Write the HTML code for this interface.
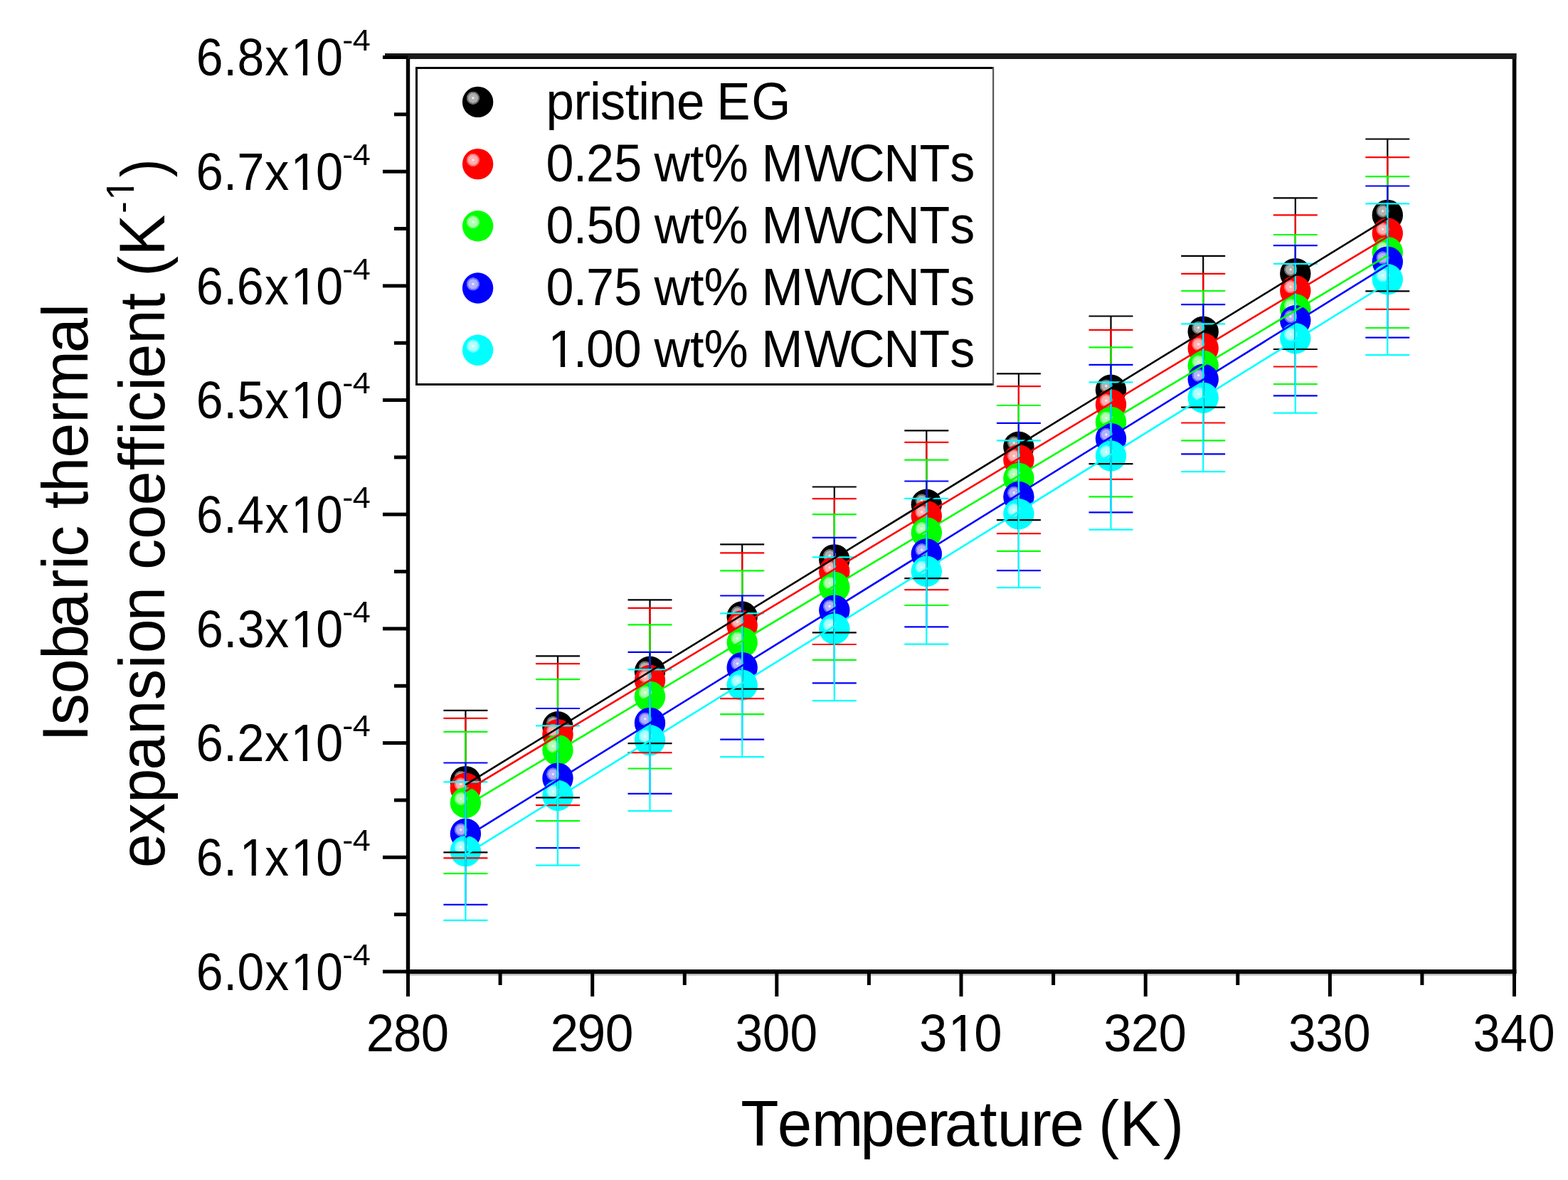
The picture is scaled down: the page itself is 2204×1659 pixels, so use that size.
<!DOCTYPE html><html><head><meta charset="utf-8"><style>html,body{margin:0;padding:0;background:#fff;}svg{display:block;}</style></head><body>
<svg width="2204" height="1659" viewBox="0 0 2204 1659" font-family='"Liberation Sans", Arial, sans-serif'>
<defs>
<radialGradient id="gk" cx="0.346" cy="0.37" fx="0.346" fy="0.37" r="0.215"><stop offset="0" stop-color="#ffffff"/><stop offset="0.15" stop-color="#d9d9d9"/><stop offset="0.25" stop-color="#b2b2b2"/><stop offset="0.72" stop-color="#adadad"/><stop offset="0.76" stop-color="#737373"/><stop offset="0.95" stop-color="#666666"/><stop offset="1" stop-color="#000000"/></radialGradient>
<radialGradient id="gr" cx="0.346" cy="0.37" fx="0.346" fy="0.37" r="0.215"><stop offset="0" stop-color="#ffffff"/><stop offset="0.15" stop-color="#ffd9d9"/><stop offset="0.25" stop-color="#ffb2b2"/><stop offset="0.72" stop-color="#ffadad"/><stop offset="0.76" stop-color="#ff7373"/><stop offset="0.95" stop-color="#ff6666"/><stop offset="1" stop-color="#ff0000"/></radialGradient>
<radialGradient id="gg" cx="0.346" cy="0.37" fx="0.346" fy="0.37" r="0.215"><stop offset="0" stop-color="#ffffff"/><stop offset="0.15" stop-color="#d9ffd9"/><stop offset="0.25" stop-color="#b2ffb2"/><stop offset="0.72" stop-color="#adffad"/><stop offset="0.76" stop-color="#73ff73"/><stop offset="0.95" stop-color="#66ff66"/><stop offset="1" stop-color="#00ff00"/></radialGradient>
<radialGradient id="gb" cx="0.346" cy="0.37" fx="0.346" fy="0.37" r="0.215"><stop offset="0" stop-color="#ffffff"/><stop offset="0.15" stop-color="#d9d9ff"/><stop offset="0.25" stop-color="#b2b2ff"/><stop offset="0.72" stop-color="#adadff"/><stop offset="0.76" stop-color="#7373ff"/><stop offset="0.95" stop-color="#6666ff"/><stop offset="1" stop-color="#0000ff"/></radialGradient>
<radialGradient id="gc" cx="0.346" cy="0.37" fx="0.346" fy="0.37" r="0.215"><stop offset="0" stop-color="#ffffff"/><stop offset="0.15" stop-color="#d9ffff"/><stop offset="0.25" stop-color="#b2ffff"/><stop offset="0.72" stop-color="#adffff"/><stop offset="0.76" stop-color="#73ffff"/><stop offset="0.95" stop-color="#66ffff"/><stop offset="1" stop-color="#00ffff"/></radialGradient>
</defs>
<rect width="2204" height="1659" fill="#fff"/>
<g fill="#000">
<rect x="570.8" y="75" width="5.4" height="1294"/>
<rect x="2125.8" y="75" width="5.6" height="1294"/>
<rect x="541" y="75" width="1590.4" height="8" fill="#1a1a1a"/>
<rect x="570.8" y="1363" width="1560.6" height="6"/>
<rect x="570.8" y="1369" width="1560.6" height="2.5" fill="#bbb"/>
<rect x="538" y="1363.5" width="35" height="5"/>
<rect x="554" y="1283.2" width="19" height="5"/>
<rect x="538" y="1202.8" width="35" height="5"/>
<rect x="554" y="1122.5" width="19" height="5"/>
<rect x="538" y="1042.1" width="35" height="5"/>
<rect x="554" y="961.8" width="19" height="5"/>
<rect x="538" y="881.4" width="35" height="5"/>
<rect x="554" y="801.1" width="19" height="5"/>
<rect x="538" y="720.7" width="35" height="5"/>
<rect x="554" y="640.4" width="19" height="5"/>
<rect x="538" y="560.0" width="35" height="5"/>
<rect x="554" y="479.7" width="19" height="5"/>
<rect x="538" y="399.4" width="35" height="5"/>
<rect x="554" y="319.0" width="19" height="5"/>
<rect x="538" y="238.7" width="35" height="5"/>
<rect x="554" y="158.3" width="19" height="5"/>
<rect x="538" y="78.0" width="35" height="5"/>
<rect x="571.0" y="1365" width="5" height="36"/>
<rect x="700.6" y="1365" width="5" height="20"/>
<rect x="830.2" y="1365" width="5" height="36"/>
<rect x="959.8" y="1365" width="5" height="20"/>
<rect x="1089.3" y="1365" width="5" height="36"/>
<rect x="1218.9" y="1365" width="5" height="20"/>
<rect x="1348.5" y="1365" width="5" height="36"/>
<rect x="1478.1" y="1365" width="5" height="20"/>
<rect x="1607.7" y="1365" width="5" height="36"/>
<rect x="1737.3" y="1365" width="5" height="20"/>
<rect x="1866.9" y="1365" width="5" height="36"/>
<rect x="1996.4" y="1365" width="5" height="20"/>
<rect x="2126.0" y="1365" width="5" height="36"/>
</g>
<g fill="#000">
<text transform="translate(0,1391.70) scale(0.9255,1)" x="298.0 339.5 360.3 402.2 441.8 480.0" font-size="73.3">6.0x10</text><rect x="412.65" y="1384.90" width="13.21" height="8.00" fill="#fff"/><rect x="431.97" y="1384.90" width="12.53" height="8.00" fill="#fff"/>
<text transform="translate(0,1356.85) scale(1.0581,1)" x="454.8 468.6" font-size="42.6">-4</text>
<text transform="translate(0,1231.01) scale(0.9227,1)" x="298.9 340.5 365.0 403.5 443.2 481.5" font-size="73.3">6.1x10</text><rect x="340.50" y="1224.21" width="13.17" height="8.00" fill="#fff"/><rect x="359.76" y="1224.21" width="12.50" height="8.00" fill="#fff"/><rect x="412.70" y="1224.21" width="13.17" height="8.00" fill="#fff"/><rect x="431.96" y="1224.21" width="12.50" height="8.00" fill="#fff"/>
<text transform="translate(0,1196.16) scale(1.0581,1)" x="454.8 468.6" font-size="42.6">-4</text>
<text transform="translate(0,1070.32) scale(0.9385,1)" x="293.6 334.6 355.1 396.4 435.4 473.1" font-size="73.3">6.2x10</text><rect x="412.44" y="1063.52" width="13.38" height="8.00" fill="#fff"/><rect x="432.01" y="1063.52" width="12.69" height="8.00" fill="#fff"/>
<text transform="translate(0,1035.47) scale(1.0581,1)" x="454.8 468.6" font-size="42.6">-4</text>
<text transform="translate(0,909.63) scale(0.9319,1)" x="295.8 337.1 358.2 399.3 438.6 476.6" font-size="73.3">6.3x10</text><rect x="412.55" y="902.83" width="13.30" height="8.00" fill="#fff"/><rect x="431.99" y="902.83" width="12.61" height="8.00" fill="#fff"/>
<text transform="translate(0,874.78) scale(1.0581,1)" x="454.8 468.6" font-size="42.6">-4</text>
<text transform="translate(0,748.94) scale(0.9129,1)" x="302.4 344.3 365.6 408.0 448.2 486.9" font-size="73.3">6.4x10</text><rect x="412.86" y="742.14" width="13.05" height="8.00" fill="#fff"/><rect x="431.92" y="742.14" width="12.38" height="8.00" fill="#fff"/>
<text transform="translate(0,714.09) scale(1.0581,1)" x="454.8 468.6" font-size="42.6">-4</text>
<text transform="translate(0,588.25) scale(0.9255,1)" x="298.0 339.5 360.3 402.2 441.8 480.0" font-size="73.3">6.5x10</text><rect x="412.65" y="581.45" width="13.21" height="8.00" fill="#fff"/><rect x="431.97" y="581.45" width="12.53" height="8.00" fill="#fff"/>
<text transform="translate(0,553.40) scale(1.0581,1)" x="454.8 468.6" font-size="42.6">-4</text>
<text transform="translate(0,427.56) scale(0.9319,1)" x="295.8 337.1 357.2 399.3 438.6 476.6" font-size="73.3">6.6x10</text><rect x="412.55" y="420.76" width="13.30" height="8.00" fill="#fff"/><rect x="431.99" y="420.76" width="12.61" height="8.00" fill="#fff"/>
<text transform="translate(0,392.71) scale(1.0581,1)" x="454.8 468.6" font-size="42.6">-4</text>
<text transform="translate(0,266.87) scale(0.9385,1)" x="293.6 334.6 355.1 396.4 435.4 473.1" font-size="73.3">6.7x10</text><rect x="412.44" y="260.07" width="13.38" height="8.00" fill="#fff"/><rect x="432.01" y="260.07" width="12.69" height="8.00" fill="#fff"/>
<text transform="translate(0,232.02) scale(1.0581,1)" x="454.8 468.6" font-size="42.6">-4</text>
<text transform="translate(0,106.18) scale(0.9255,1)" x="298.0 339.5 360.3 402.2 441.8 480.0" font-size="73.3">6.8x10</text><rect x="412.65" y="99.38" width="13.21" height="8.00" fill="#fff"/><rect x="431.97" y="99.38" width="12.53" height="8.00" fill="#fff"/>
<text transform="translate(0,71.33) scale(1.0581,1)" x="454.8 468.6" font-size="42.6">-4</text>
<text transform="translate(0,1477.50) scale(0.9563,1)" x="538.2 578.4 618.8" font-size="74">280</text>
<text transform="translate(0,1477.50) scale(0.9657,1)" x="801.1 840.4 881.0" font-size="74">290</text>
<text transform="translate(0,1477.50) scale(0.9381,1)" x="1101.6 1142.5 1183.8" font-size="74">300</text>
<text transform="translate(0,1477.50) scale(0.9557,1)" x="1352.0 1394.6 1432.8" font-size="74">310</text><rect x="1336.83" y="1470.65" width="13.73" height="8.05" fill="#fff"/><rect x="1356.93" y="1470.65" width="13.02" height="8.05" fill="#fff"/>
<text transform="translate(0,1477.50) scale(0.9563,1)" x="1622.2 1662.4 1702.9" font-size="74">320</text>
<text transform="translate(0,1477.50) scale(0.9381,1)" x="1930.4 1971.4 2012.6" font-size="74">330</text>
<text transform="translate(0,1477.50) scale(0.9206,1)" x="2249.1 2290.8 2332.9" font-size="74">340</text>
<text transform="translate(0,1611.10) scale(0.9701,1)" x="1073.4 1126.4 1176.0 1246.6 1295.5 1343.9 1368.8 1419.7 1444.9 1493.3 1520.9 1540.9 1591.6 1622.1 1685.3" font-size="90">Temperature (K)</text>
<text transform="translate(122.70,0) rotate(-90) scale(0.9827,1)" x="-1061.4 -1037.2 -992.7 -943.3 -898.2 -844.5 -815.1 -796.7 -776.7 -727.8 -704.2 -655.2 -605.4 -576.5 -505.1 -454.4" font-size="90" style="font-variant-ligatures:none">Isobaric thermal</text>
<text transform="translate(231.40,0) rotate(-90) scale(0.9630,1)" x="-1267.2 -1217.9 -1172.1 -1124.3 -1072.4 -1022.2 -976.1 -953.8 -906.7 -886.7 -831.9 -787.1 -737.8 -686.7 -663.3 -635.3 -616.1 -570.6 -552.3 -502.2 -452.7 -432.7 -403.8 -373.2" font-size="90" style="font-variant-ligatures:none">expansion coefficient (K</text>
<text transform="translate(189.20,299.80) rotate(-90) scale(0.946,1)" font-size="52">-</text>
<text transform="translate(188.40,281.70) rotate(-90) scale(1.000,1)" font-size="54.6">1</text>
<rect x="182.4" y="268.05" width="7" height="10.6" fill="#fff"/><rect x="182.4" y="253.2" width="7" height="9.9" fill="#fff"/>
<text transform="translate(230.80,249.30) rotate(-90) scale(0.896,1)" font-size="87">)</text>
<path d="M1395.5 95.5H585.5V540.5H1395.5" fill="none" stroke="#000" stroke-width="3"/>
<rect x="1395" y="94" width="2.2" height="448" fill="#555"/>
<circle cx="671.6" cy="143.4" r="21.7" fill="url(#gk)"/>
<text transform="translate(0,167.60) scale(0.9507,1)" x="807.3 848.3 871.9 887.4 924.2 943.8 959.3 1000.4 1020.4 1059.4 1111.0" font-size="74.6">pristine EG</text>
<circle cx="671.6" cy="230.6" r="21.7" fill="url(#gr)"/>
<text transform="translate(0,254.60) scale(0.9406,1)" x="815.9 856.6 876.1 917.7 937.7 977.7 1031.2 1052.0 1072.0 1138.0 1202.1 1268.3 1320.7 1374.0 1419.7" font-size="74.6">0.25 wt% MWCNTs</text>
<circle cx="671.6" cy="317.8" r="21.7" fill="url(#gg)"/>
<text transform="translate(0,341.60) scale(0.9370,1)" x="819.0 859.9 880.0 920.8 940.8 981.5 1035.1 1056.1 1076.1 1142.4 1206.7 1273.2 1325.8 1379.3 1425.1" font-size="74.6">0.50 wt% MWCNTs</text>
<circle cx="671.6" cy="405.0" r="21.7" fill="url(#gb)"/>
<text transform="translate(0,428.60) scale(0.9406,1)" x="815.9 856.6 876.1 917.7 937.7 977.7 1031.2 1052.0 1072.0 1138.0 1202.1 1268.3 1320.7 1374.0 1419.7" font-size="74.6">0.75 wt% MWCNTs</text>
<circle cx="671.6" cy="492.2" r="21.7" fill="url(#gc)"/>
<text transform="translate(0,515.60) scale(0.9392,1)" x="820.2 857.9 877.3 918.5 938.5 979.1 1032.7 1053.6 1073.6 1139.6 1203.8 1270.1 1322.6 1376.0 1421.7" font-size="74.6">1.00 wt% MWCNTs</text><rect x="774.24" y="508.70" width="13.61" height="8.09" fill="#fff"/><rect x="794.16" y="508.70" width="12.91" height="8.09" fill="#fff"/>
</g>
<circle cx="654.4" cy="1098.6" r="21.7" fill="url(#gk)"/>
<circle cx="784.0" cy="1021.8" r="21.7" fill="url(#gk)"/>
<circle cx="913.5" cy="944.2" r="21.7" fill="url(#gk)"/>
<circle cx="1043.2" cy="867.0" r="21.7" fill="url(#gk)"/>
<circle cx="1172.8" cy="786.9" r="21.7" fill="url(#gk)"/>
<circle cx="1302.3" cy="709.2" r="21.7" fill="url(#gk)"/>
<circle cx="1431.9" cy="628.2" r="21.7" fill="url(#gk)"/>
<circle cx="1561.5" cy="548.3" r="21.7" fill="url(#gk)"/>
<circle cx="1691.2" cy="466.3" r="21.7" fill="url(#gk)"/>
<circle cx="1820.8" cy="384.6" r="21.7" fill="url(#gk)"/>
<circle cx="1950.3" cy="302.4" r="21.7" fill="url(#gk)"/>
<circle cx="654.4" cy="1108.1" r="21.7" fill="url(#gr)"/>
<circle cx="784.0" cy="1032.7" r="21.7" fill="url(#gr)"/>
<circle cx="913.5" cy="956.5" r="21.7" fill="url(#gr)"/>
<circle cx="1043.2" cy="879.8" r="21.7" fill="url(#gr)"/>
<circle cx="1172.8" cy="803.6" r="21.7" fill="url(#gr)"/>
<circle cx="1302.3" cy="725.5" r="21.7" fill="url(#gr)"/>
<circle cx="1431.9" cy="646.7" r="21.7" fill="url(#gr)"/>
<circle cx="1561.5" cy="568.9" r="21.7" fill="url(#gr)"/>
<circle cx="1691.2" cy="489.6" r="21.7" fill="url(#gr)"/>
<circle cx="1820.8" cy="408.9" r="21.7" fill="url(#gr)"/>
<circle cx="1950.3" cy="328.0" r="21.7" fill="url(#gr)"/>
<circle cx="654.4" cy="1128.5" r="21.7" fill="url(#gg)"/>
<circle cx="784.0" cy="1054.6" r="21.7" fill="url(#gg)"/>
<circle cx="913.5" cy="979.4" r="21.7" fill="url(#gg)"/>
<circle cx="1043.2" cy="903.2" r="21.7" fill="url(#gg)"/>
<circle cx="1172.8" cy="825.5" r="21.7" fill="url(#gg)"/>
<circle cx="1302.3" cy="748.9" r="21.7" fill="url(#gg)"/>
<circle cx="1431.9" cy="672.4" r="21.7" fill="url(#gg)"/>
<circle cx="1561.5" cy="593.4" r="21.7" fill="url(#gg)"/>
<circle cx="1691.2" cy="514.2" r="21.7" fill="url(#gg)"/>
<circle cx="1820.8" cy="435.0" r="21.7" fill="url(#gg)"/>
<circle cx="1950.3" cy="354.6" r="21.7" fill="url(#gg)"/>
<circle cx="654.4" cy="1172.2" r="21.7" fill="url(#gb)"/>
<circle cx="784.0" cy="1094.1" r="21.7" fill="url(#gb)"/>
<circle cx="913.5" cy="1016.4" r="21.7" fill="url(#gb)"/>
<circle cx="1043.2" cy="938.6" r="21.7" fill="url(#gb)"/>
<circle cx="1172.8" cy="858.1" r="21.7" fill="url(#gb)"/>
<circle cx="1302.3" cy="778.9" r="21.7" fill="url(#gb)"/>
<circle cx="1431.9" cy="698.5" r="21.7" fill="url(#gb)"/>
<circle cx="1561.5" cy="616.6" r="21.7" fill="url(#gb)"/>
<circle cx="1691.2" cy="533.2" r="21.7" fill="url(#gb)"/>
<circle cx="1820.8" cy="450.7" r="21.7" fill="url(#gb)"/>
<circle cx="1950.3" cy="368.1" r="21.7" fill="url(#gb)"/>
<circle cx="654.4" cy="1196.6" r="21.7" fill="url(#gc)"/>
<circle cx="784.0" cy="1118.5" r="21.7" fill="url(#gc)"/>
<circle cx="913.5" cy="1040.7" r="21.7" fill="url(#gc)"/>
<circle cx="1043.2" cy="963.2" r="21.7" fill="url(#gc)"/>
<circle cx="1172.8" cy="884.2" r="21.7" fill="url(#gc)"/>
<circle cx="1302.3" cy="803.3" r="21.7" fill="url(#gc)"/>
<circle cx="1431.9" cy="722.7" r="21.7" fill="url(#gc)"/>
<circle cx="1561.5" cy="641.0" r="21.7" fill="url(#gc)"/>
<circle cx="1691.2" cy="559.2" r="21.7" fill="url(#gc)"/>
<circle cx="1820.8" cy="475.8" r="21.7" fill="url(#gc)"/>
<circle cx="1950.3" cy="392.8" r="21.7" fill="url(#gc)"/>
<path d="M654.4 998.9V1198.3M623.4 998.9H685.4M623.4 1198.3H685.4M784.0 922.3V1121.3M753.0 922.3H815.0M753.0 1121.3H815.0M913.5 843.3V1045.1M882.5 843.3H944.5M882.5 1045.1H944.5M1043.2 765.3V968.7M1012.2 765.3H1074.2M1012.2 968.7H1074.2M1172.8 684.5V889.3M1141.8 684.5H1203.8M1141.8 889.3H1203.8M1302.3 605.3V813.1M1271.3 605.3H1333.3M1271.3 813.1H1333.3M1431.9 525.3V731.1M1400.9 525.3H1462.9M1400.9 731.1H1462.9M1561.5 444.5V652.1M1530.5 444.5H1592.5M1530.5 652.1H1592.5M1691.2 359.9V572.7M1660.2 359.9H1722.2M1660.2 572.7H1722.2M1820.8 278.3V491.0M1789.8 278.3H1851.8M1789.8 491.0H1851.8M1950.3 195.5V409.3M1919.3 195.5H1981.3M1919.3 409.3H1981.3" stroke="#000000" stroke-width="2.2" fill="none"/>
<path d="M654.4 1009.9V1206.3M623.4 1009.9H685.4M623.4 1206.3H685.4M784.0 933.2V1132.2M753.0 933.2H815.0M753.0 1132.2H815.0M913.5 854.9V1058.2M882.5 854.9H944.5M882.5 1058.2H944.5M1043.2 777.4V982.2M1012.2 777.4H1074.2M1012.2 982.2H1074.2M1172.8 701.2V906.0M1141.8 701.2H1203.8M1141.8 906.0H1203.8M1302.3 621.8V829.2M1271.3 621.8H1333.3M1271.3 829.2H1333.3M1431.9 543.2V750.2M1400.9 543.2H1462.9M1400.9 750.2H1462.9M1561.5 463.8V673.9M1530.5 463.8H1592.5M1530.5 673.9H1592.5M1691.2 384.8V594.5M1660.2 384.8H1722.2M1660.2 594.5H1722.2M1820.8 302.4V515.5M1789.8 302.4H1851.8M1789.8 515.5H1851.8M1950.3 221.2V434.9M1919.3 221.2H1981.3M1919.3 434.9H1981.3" stroke="#ff0000" stroke-width="2.2" fill="none"/>
<path d="M654.4 1028.8V1228.2M623.4 1028.8H685.4M623.4 1228.2H685.4M784.0 955.1V1154.1M753.0 955.1H815.0M753.0 1154.1H815.0M913.5 878.3V1080.5M882.5 878.3H944.5M882.5 1080.5H944.5M1043.2 802.3V1004.1M1012.2 802.3H1074.2M1012.2 1004.1H1074.2M1172.8 723.1V927.9M1141.8 723.1H1203.8M1141.8 927.9H1203.8M1302.3 646.7V851.0M1271.3 646.7H1333.3M1271.3 851.0H1333.3M1431.9 570.0V774.8M1400.9 570.0H1462.9M1400.9 774.8H1462.9M1561.5 488.3V698.4M1530.5 488.3H1592.5M1530.5 698.4H1592.5M1691.2 409.0V619.4M1660.2 409.0H1722.2M1660.2 619.4H1722.2M1820.8 330.0V540.0M1789.8 330.0H1851.8M1789.8 540.0H1851.8M1950.3 248.2V461.0M1919.3 248.2H1981.3M1919.3 461.0H1981.3" stroke="#00ff00" stroke-width="2.2" fill="none"/>
<path d="M654.4 1072.5V1271.9M623.4 1072.5H685.4M623.4 1271.9H685.4M784.0 996.0V1192.2M753.0 996.0H815.0M753.0 1192.2H815.0M913.5 916.9V1115.9M882.5 916.9H944.5M882.5 1115.9H944.5M1043.2 837.5V1039.7M1012.2 837.5H1074.2M1012.2 1039.7H1074.2M1172.8 755.9V960.3M1141.8 755.9H1203.8M1141.8 960.3H1203.8M1302.3 676.5V881.3M1271.3 676.5H1333.3M1271.3 881.3H1333.3M1431.9 594.9V802.2M1400.9 594.9H1462.9M1400.9 802.2H1462.9M1561.5 512.9V720.3M1530.5 512.9H1592.5M1530.5 720.3H1592.5M1691.2 428.1V638.3M1660.2 428.1H1722.2M1660.2 638.3H1722.2M1820.8 345.1V556.3M1789.8 345.1H1851.8M1789.8 556.3H1851.8M1950.3 261.5V474.7M1919.3 261.5H1981.3M1919.3 474.7H1981.3" stroke="#0000ff" stroke-width="2.2" fill="none"/>
<path d="M654.4 1099.4V1293.8M623.4 1099.4H685.4M623.4 1293.8H685.4M784.0 1020.3V1216.7M753.0 1020.3H815.0M753.0 1216.7H815.0M913.5 941.3V1140.1M882.5 941.3H944.5M882.5 1140.1H944.5M1043.2 862.3V1064.1M1012.2 862.3H1074.2M1012.2 1064.1H1074.2M1172.8 783.3V985.1M1141.8 783.3H1203.8M1141.8 985.1H1203.8M1302.3 700.9V905.7M1271.3 700.9H1333.3M1271.3 905.7H1333.3M1431.9 619.3V826.1M1400.9 619.3H1462.9M1400.9 826.1H1462.9M1561.5 537.4V744.7M1530.5 537.4H1592.5M1530.5 744.7H1592.5M1691.2 455.4V663.1M1660.2 455.4H1722.2M1660.2 663.1H1722.2M1820.8 370.8V580.7M1789.8 370.8H1851.8M1789.8 580.7H1851.8M1950.3 286.4V499.1M1919.3 286.4H1981.3M1919.3 499.1H1981.3" stroke="#00ffff" stroke-width="2.2" fill="none"/>
<line x1="654.4" y1="1103.4" x2="1950.3" y2="307.1" stroke="#000000" stroke-width="2.6"/>
<line x1="654.4" y1="1112.3" x2="1950.3" y2="332.8" stroke="#ff0000" stroke-width="2.6"/>
<line x1="654.4" y1="1133.4" x2="1950.3" y2="359.2" stroke="#00ff00" stroke-width="2.6"/>
<line x1="654.4" y1="1177.2" x2="1950.3" y2="372.9" stroke="#0000ff" stroke-width="2.6"/>
<line x1="654.4" y1="1201.7" x2="1950.3" y2="398.0" stroke="#00ffff" stroke-width="2.6"/>
</svg></body></html>
